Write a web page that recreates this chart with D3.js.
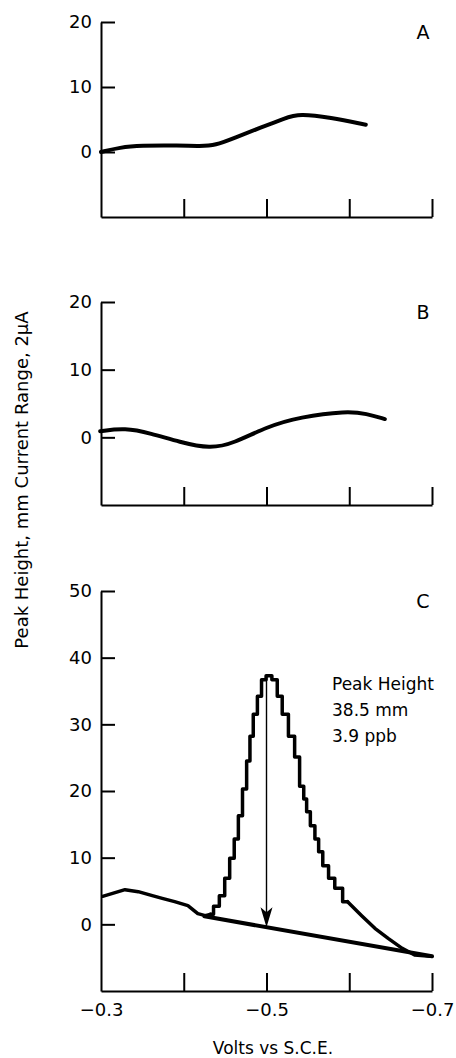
<!DOCTYPE html>
<html>
<head>
<meta charset="utf-8">
<script src="https://cdn.jsdelivr.net/npm/d3@7"></script>
<style>
  html, body { margin: 0; padding: 0; background: #fff; }
  svg { display: block; }
  text { font-family: "DejaVu Sans", sans-serif; fill: #000; }
</style>
</head>
<body>
<svg id="chart" width="456" height="1058"></svg>
<script>
// ---- data (volts vs S.C.E., response in mm) ----
const voltsA = [-0.300, -0.323, -0.347, -0.395, -0.420, -0.438, -0.462, -0.492, -0.522, -0.540, -0.577, -0.620];
const valuesA = [0.0, 0.7, 1.0, 1.0, 0.9, 1.0, 2.2, 3.7, 5.2, 5.9, 5.3, 4.2];

const voltsB = [-0.299, -0.329, -0.360, -0.395, -0.432, -0.460, -0.501, -0.540, -0.597, -0.621, -0.643];
const valuesB = [0.9, 1.4, 0.6, -0.7, -1.7, -0.9, 1.6, 3.0, 3.9, 3.5, 2.7];

const voltsC = [-0.302, -0.313, -0.329, -0.345, -0.362, -0.374, -0.389, -0.405, -0.417, -0.426,
  -0.432, -0.440, -0.446, -0.453, -0.458, -0.464, -0.468, -0.474, -0.478, -0.482, -0.486, -0.492,
  -0.496, -0.503, -0.510, -0.516, -0.522, -0.531, -0.537, -0.543, -0.547, -0.550, -0.556, -0.561,
  -0.565, -0.571, -0.579, -0.586, -0.598, -0.615, -0.631, -0.647, -0.664, -0.679, -0.698];
const valuesC = [4.2, 4.6, 5.2, 4.9, 4.3, 3.9, 3.4, 2.8, 1.6, 1.3,
  1.5, 2.7, 4.3, 6.9, 9.9, 12.8, 16.3, 20.3, 24.5, 28.2, 31.5, 34.2,
  36.7, 37.3, 36.7, 34.2, 31.5, 28.2, 25.1, 20.7, 18.8, 16.9, 14.8, 12.8,
  10.9, 8.8, 6.9, 5.4, 3.4, 1.3, -0.6, -2.1, -3.6, -4.6, -4.8];
// index range of C drawn as the recorder's staircase trace
const stepRangeC = [10, 38];

const baselineVolts = [-0.425, -0.700];
const baselineValues = [1.2, -4.8];
const peakVolt = -0.5;
const peakTop = 37.3;

const xTicks = [-0.3, -0.4, -0.5, -0.6, -0.7];
const xTickLabels = ["−0.3", "", "−0.5", "", "−0.7"];
const yTicksAB = [0, 10, 20];
const yTicksC = [0, 10, 20, 30, 40, 50];
const annotation = ["Peak Height", "38.5 mm", "3.9 ppb"];

// ---- layout ----
const svg = d3.select("#chart");
const x = d3.scaleLinear().domain([-0.3, -0.7]).range([101, 432]);

const panels = [
  { key: "A", volts: voltsA, vals: valuesA, domain: [-10, 20], range: [217, 22], ticks: yTicksAB, labels: false, lw: 4 },
  { key: "B", volts: voltsB, vals: valuesB, domain: [-10, 20], range: [505, 302], ticks: yTicksAB, labels: false, lw: 4 },
  { key: "C", volts: voltsC, vals: valuesC, domain: [-10, 50], range: [991, 591], ticks: yTicksC, labels: true, lw: 3.5 }
];

panels.forEach(p => {
  const y = d3.scaleLinear().domain(p.domain).range(p.range);
  const g = svg.append("g");

  // y axis
  const ya = g.append("g").attr("transform", "translate(101,0)")
    .call(d3.axisLeft(y).tickValues(p.ticks).tickSize(-14).tickSizeOuter(0).tickPadding(9).tickFormat(d3.format("d")));
  // x axis
  const xa = g.append("g").attr("transform", `translate(0,${p.range[0]})`)
    .call(d3.axisBottom(x).tickValues(xTicks).tickSize(-18).tickSizeOuter(0).tickPadding(12)
      .tickFormat((d, i) => p.labels ? xTickLabels[i] : ""));
  [ya, xa].forEach(a => {
    a.select(".domain").attr("stroke", "#000").attr("stroke-width", 2);
    a.selectAll(".tick line").attr("stroke", "#000").attr("stroke-width", 2);
    a.selectAll(".tick text").attr("font-size", 18).attr("fill", "#000")
      .style("font-family", "DejaVu Sans, sans-serif");
  });
  xa.selectAll(".tick").filter(d => d === -0.3).select("line").remove();

  // panel letter
  g.append("text").attr("x", 423).attr("y", p.range[1] + 17)
    .attr("text-anchor", "middle").attr("font-size", 19).text(p.key);

  const data = p.volts.map((v, i) => [v, p.vals[i]]);
  const lineOf = c => d3.line().x(d => x(d[0])).y(d => y(d[1])).curve(c);
  const drawTrace = (pts, c) => g.append("path").datum(pts)
    .attr("fill", "none").attr("stroke", "#000").attr("stroke-width", p.lw)
    .attr("stroke-linejoin", "round").attr("stroke-linecap", "round")
    .attr("d", lineOf(c));

  if (p.key !== "C") {
    drawTrace(data, d3.curveBasis);
  } else {
    const [s0, s1] = stepRangeC;
    drawTrace(data.slice(0, s0 + 1), d3.curveLinear);
    drawTrace(data.slice(s0, s1 + 1), d3.curveStep);
    drawTrace(data.slice(s1), d3.curveLinear);

    // baseline
    g.append("path").datum(baselineVolts.map((v, i) => [v, baselineValues[i]]))
      .attr("fill", "none").attr("stroke", "#000").attr("stroke-width", 4).attr("stroke-linecap", "round")
      .attr("d", d3.line().x(d => x(d[0])).y(d => y(d[1])));
    // arrow
    const baseAtPeak = d3.scaleLinear().domain(baselineVolts).range(baselineValues)(peakVolt);
    const ax = x(peakVolt), y0 = y(peakTop), y1 = y(baseAtPeak);
    g.append("line").attr("x1", ax).attr("x2", ax).attr("y1", y0).attr("y2", y1 - 8)
      .attr("stroke", "#000").attr("stroke-width", 1.4);
    g.append("path")
      .attr("d", `M${ax - 6},${y1 - 20} L${ax},${y1} L${ax + 6},${y1 - 20} L${ax},${y1 - 15} Z`)
      .attr("fill", "#000");
    // annotation
    annotation.forEach((t, i) => {
      g.append("text").attr("x", 332).attr("y", 690 + i * 26).attr("font-size", 17).text(t);
    });
    // x label
    g.append("text").attr("x", 273).attr("y", 1054).attr("text-anchor", "middle")
      .attr("font-size", 17).text("Volts vs S.C.E.");
  }
});

// y axis title
svg.append("text").attr("transform", "translate(28,480) rotate(-90)")
  .attr("text-anchor", "middle").attr("font-size", 18)
  .text("Peak Height, mm Current Range, 2μA");
</script>
</body>
</html>
